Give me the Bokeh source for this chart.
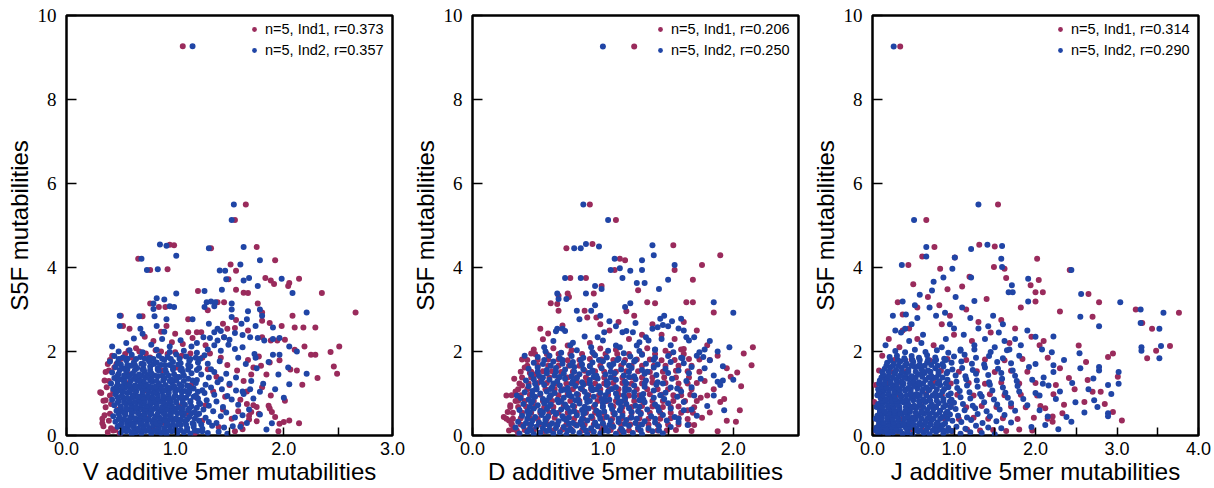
from bokeh.plotting import figure
from bokeh.layouts import row
from bokeh.models import FixedTicker, PrintfTickFormatter, Legend, LegendItem, Range1d
from bokeh.embed import file_html
from bokeh.resources import INLINE

IND1_COLOR = "#9a2b5c"
IND2_COLOR = "#2045a6"

# ---------------- V panel ----------------
v_ind1 = [
    (1.07,9.27),(1.65,5.50),(1.55,5.13),(0.95,4.54),(0.99,4.53),(1.33,4.46),(1.75,4.49),(1.92,4.17),(0.66,4.21),(0.77,3.94),
    (0.93,3.96),(1.51,4.07),(1.56,3.92),(1.49,3.72),(1.83,3.75),(1.88,3.69),(1.91,3.61),(2.05,3.63),(2.04,3.56),(2.14,3.73),
    (1.21,3.44),(1.56,3.47),(1.63,3.40),(1.67,3.39),(2.35,3.39),(2.66,2.93),(0.77,3.14),(0.85,3.06),(0.91,3.06),(0.50,2.85),
    (0.70,2.84),(0.52,2.61),(0.58,2.54),(0.92,2.61),(0.87,2.47),(1.39,3.17),(1.45,3.17),(1.30,2.98),(1.76,3.14),(1.80,2.93),
    (1.12,2.77),(1.44,2.66),(1.56,2.75),(1.87,2.68),(1.80,2.73),(1.98,2.61),(2.10,2.57),(2.18,2.57),(2.29,2.57),(2.08,2.85),
    (1.20,2.46),(1.24,2.46),(1.48,2.54),(1.45,2.34),(1.55,2.56),(1.67,2.50),(1.80,2.34),(1.88,2.26),(1.94,2.26),(2.01,2.28),
    (2.10,2.04),(2.19,2.12),(2.25,1.92),(2.29,1.92),(2.43,1.99),(2.51,2.12),(2.46,1.64),(2.49,1.47),(2.31,1.37),(2.17,1.21),
    (2.06,1.57),(2.12,1.55),(1.96,1.79),(1.87,1.74),(1.79,1.66),(1.72,1.62),(1.00,2.42),(1.12,2.46),(1.16,2.32),(1.07,2.18),
    (0.97,2.22),(0.80,2.25),(0.72,2.35),(1.28,2.15),
    (1.87,0.64),(1.89,0.56),(2.00,0.32),(2.05,0.36),(2.14,0.29),(1.95,0.10),(2.01,0.83),(1.77,0.52),(1.75,0.68),(1.66,0.75),
    (1.61,0.27),(1.68,0.47),(1.75,0.34),(1.92,0.44),(1.96,0.28),(1.70,0.56),(1.86,0.71),
    (0.62,0.95),(0.75,0.40),(0.88,1.55),(1.05,0.70),(1.15,1.20),(0.70,1.70),(1.25,0.35),(0.55,1.25),(0.98,1.30),(0.80,0.15),
    (1.10,0.52),(0.66,0.55),(0.93,0.88),(1.20,0.90),(0.58,1.45),(1.02,1.62),(0.85,1.15),(1.30,1.58),(1.18,0.05),(0.72,1.08),
    (0.48,0.62),(1.35,1.05),(1.28,0.72),(0.90,0.30),(1.40,0.20),(1.44,0.62),(1.38,1.40),(1.50,1.20),(1.46,0.92),(1.52,0.40),
    (1.55,0.10),(1.58,0.58),(1.48,1.68),(1.42,1.85),(1.60,0.85),(1.63,1.30),(1.57,1.55),(1.66,1.05),(1.70,1.45),(1.68,0.38),
    (1.62,0.15),(1.72,0.72),(1.80,1.15),(1.84,1.45),(1.77,1.88),(1.67,1.80),(1.88,0.95),
    (0.31,1.03),(0.34,0.83),(0.35,0.48),(0.33,0.29),(0.41,0.17),(0.45,0.13),(0.36,0.67),(0.39,1.30),(0.42,1.90),(0.36,1.51),
    (0.35,1.31),(0.32,1.01),(0.36,0.84),(0.40,0.52),(0.33,0.40),(0.34,0.22),(0.43,0.12),(0.49,0.04),(0.38,0.08),(0.37,1.15),
    (0.38,1.70),(0.40,0.95),(0.39,0.35),(0.41,0.75),(0.39,1.55),(0.44,1.62),(0.40,1.80),(0.46,1.70),(0.43,1.05),(0.54,1.94),
    (0.60,1.86),(0.67,2.00),(0.77,1.86),(0.87,2.00),(0.93,1.94),(0.82,2.03),(0.73,1.95),(1.00,1.98),(1.06,1.90),(1.14,1.95),
    (1.25,1.85),(1.32,1.95),(0.64,2.08),(0.57,2.02),(0.50,1.82),
]
v_ind2 = [
    (0.50,0.06),(0.55,0.10),(0.60,0.03),(0.64,0.08),(0.69,0.05),(0.73,0.11),(0.78,0.04),(0.83,0.09),(0.87,0.06),(0.92,0.02),
    (0.97,0.10),(1.02,0.05),(1.08,0.08),(1.14,0.04),(1.21,0.11),(1.30,0.06),(1.40,0.09),(1.48,0.04),
    (0.52,0.13),(0.62,0.11),(0.71,0.14),(0.81,0.12),(0.90,0.10),(1.00,0.13),(1.11,0.12),(1.25,0.10),
    (0.57,0.12),(0.66,0.13),(0.76,0.12),(0.85,0.13),(0.95,0.12),(1.05,0.13),(1.18,0.12),
    (0.47,0.21),(0.53,0.17),(0.57,0.23),(0.62,0.19),(0.66,0.16),(0.71,0.22),(0.76,0.18),(0.80,0.24),(0.85,0.20),(0.90,0.17),
    (0.95,0.22),(1.00,0.19),(1.05,0.25),(1.11,0.18),(1.17,0.21),(1.25,0.16),(1.34,0.23),(1.45,0.19),(1.53,0.22),
    (0.50,0.26),(0.56,0.27),(0.62,0.26),(0.68,0.27),(0.74,0.26),(0.80,0.27),(0.86,0.26),(0.92,0.27),(0.98,0.26),(1.04,0.27),
    (1.10,0.26),(1.17,0.27),(1.24,0.26),
    (0.45,0.33),(0.51,0.30),(0.56,0.36),(0.60,0.29),(0.65,0.34),(0.69,0.31),(0.74,0.37),(0.79,0.32),(0.83,0.28),(0.88,0.35),
    (0.93,0.31),(0.98,0.36),(1.03,0.30),(1.09,0.34),(1.16,0.29),(1.22,0.35),(1.31,0.32),(1.38,0.30),
    (0.48,0.39),(0.58,0.37),(0.67,0.40),(0.76,0.38),(0.86,0.36),(0.95,0.39),(1.05,0.38),(1.18,0.40),
    (0.53,0.38),(0.63,0.39),(0.72,0.38),(0.81,0.39),(0.90,0.38),(1.00,0.39),(1.11,0.38),
    (0.43,0.46),(0.49,0.43),(0.54,0.49),(0.59,0.44),(0.63,0.41),(0.68,0.47),(0.72,0.44),(0.77,0.50),(0.82,0.45),(0.86,0.42),
    (0.91,0.48),(0.96,0.45),(1.01,0.41),(1.07,0.47),(1.13,0.44),(1.20,0.49),(1.28,0.42),(1.42,0.46),(1.55,0.43),
    (0.48,0.52),(0.54,0.53),(0.60,0.52),(0.66,0.53),(0.72,0.52),(0.78,0.53),(0.84,0.52),(0.90,0.53),(0.96,0.52),(1.02,0.53),
    (1.08,0.52),(1.15,0.53),(1.22,0.52),
    (0.46,0.59),(0.52,0.56),(0.57,0.62),(0.61,0.57),(0.66,0.54),(0.71,0.60),(0.75,0.57),(0.80,0.63),(0.85,0.58),(0.89,0.55),
    (0.94,0.61),(0.99,0.57),(1.05,0.54),(1.12,0.60),(1.18,0.56),(1.26,0.62),(1.35,0.58),(1.47,0.55),
    (0.50,0.65),(0.59,0.63),(0.68,0.66),(0.77,0.64),(0.87,0.62),(0.96,0.65),(1.07,0.64),(1.20,0.66),
    (0.55,0.64),(0.64,0.65),(0.73,0.64),(0.82,0.65),(0.92,0.64),(1.01,0.65),(1.13,0.64),
    (0.44,0.72),(0.50,0.69),(0.55,0.75),(0.60,0.70),(0.64,0.67),(0.69,0.73),(0.74,0.70),(0.78,0.76),(0.83,0.71),(0.88,0.68),
    (0.92,0.74),(0.97,0.70),(1.03,0.67),(1.09,0.73),(1.15,0.69),(1.23,0.75),(1.31,0.71),(1.44,0.68),(1.58,0.73),
    (0.47,0.78),(0.53,0.79),(0.59,0.78),(0.65,0.79),(0.71,0.78),(0.77,0.79),(0.83,0.78),(0.89,0.79),(0.95,0.78),(1.01,0.79),
    (1.07,0.78),(1.14,0.79),(1.22,0.78),
    (0.42,0.85),(0.48,0.82),(0.53,0.88),(0.58,0.83),(0.63,0.80),(0.67,0.86),(0.72,0.83),(0.77,0.89),(0.81,0.84),(0.86,0.81),
    (0.91,0.87),(0.96,0.83),(1.01,0.80),(1.07,0.86),(1.14,0.82),(1.21,0.88),(1.29,0.84),(1.38,0.81),(1.52,0.86),
    (0.47,0.91),(0.56,0.89),(0.65,0.92),(0.74,0.90),(0.84,0.88),(0.94,0.91),(1.04,0.90),(1.17,0.92),
    (0.52,0.90),(0.61,0.91),(0.70,0.90),(0.79,0.91),(0.89,0.90),(0.99,0.91),(1.10,0.90),
    (0.45,0.98),(0.51,0.95),(0.56,1.01),(0.61,0.96),(0.66,0.93),(0.70,0.99),(0.75,0.96),(0.80,1.02),(0.84,0.97),(0.89,0.94),
    (0.94,1.00),(1.00,0.96),(1.06,0.93),(1.12,0.99),(1.19,0.95),(1.27,1.01),(1.36,0.97),(1.48,0.94),(1.63,0.99),
    (0.46,1.04),(0.52,1.05),(0.58,1.04),(0.64,1.05),(0.70,1.04),(0.76,1.05),(0.82,1.04),(0.88,1.05),(0.94,1.04),(1.00,1.05),
    (1.06,1.04),(1.13,1.05),(1.21,1.04),
    (0.43,1.11),(0.49,1.08),(0.54,1.14),(0.59,1.09),(0.64,1.06),(0.69,1.12),(0.74,1.09),(0.79,1.15),(0.84,1.10),(0.90,1.07),
    (0.96,1.13),(1.02,1.09),(1.09,1.06),(1.17,1.12),(1.25,1.08),(1.33,1.14),(1.43,1.10),(1.56,1.07),
    (0.51,1.17),(0.61,1.15),(0.71,1.18),(0.82,1.16),(0.93,1.14),(1.06,1.17),
    (0.46,1.16),(0.56,1.17),(0.66,1.16),(0.76,1.17),(0.87,1.16),(0.99,1.17),(1.13,1.16),
    (0.41,1.24),(0.47,1.21),(0.53,1.27),(0.58,1.22),(0.63,1.19),(0.68,1.25),(0.73,1.22),(0.79,1.28),(0.85,1.23),(0.91,1.20),
    (0.97,1.26),(1.04,1.22),(1.11,1.19),(1.19,1.25),(1.28,1.21),(1.39,1.27),(1.50,1.23),
    (0.47,1.30),(0.53,1.31),(0.59,1.30),(0.65,1.31),(0.71,1.30),(0.77,1.31),(0.83,1.30),(0.89,1.31),(0.95,1.30),(1.01,1.31),
    (1.08,1.30),(1.16,1.31),
    (0.44,1.37),(0.50,1.34),(0.56,1.40),(0.62,1.35),(0.67,1.32),(0.73,1.38),(0.78,1.35),(0.84,1.41),(0.90,1.36),(0.97,1.33),
    (1.04,1.39),(1.12,1.35),(1.20,1.32),(1.31,1.38),(1.42,1.34),
    (0.53,1.43),(0.64,1.41),(0.75,1.44),(0.88,1.42),(1.01,1.40),
    (0.47,1.42),(0.58,1.43),(0.69,1.42),(0.81,1.43),(0.94,1.42),(1.08,1.43),
    (0.42,1.50),(0.48,1.47),(0.55,1.53),(0.61,1.48),(0.67,1.45),(0.72,1.51),(0.78,1.48),(0.85,1.54),(0.92,1.49),(0.99,1.46),
    (1.07,1.52),(1.15,1.48),(1.24,1.45),(1.36,1.51),(1.47,1.47),
    (0.49,1.56),(0.56,1.57),(0.63,1.56),(0.70,1.57),(0.77,1.56),(0.84,1.57),(0.91,1.56),(0.98,1.57),(1.05,1.56),(1.12,1.57),
    (1.20,1.56),
    (0.45,1.63),(0.52,1.60),(0.59,1.66),(0.65,1.61),(0.71,1.58),(0.77,1.64),(0.84,1.61),(0.91,1.67),(0.98,1.62),(1.06,1.59),
    (1.14,1.65),(1.22,1.61),(1.33,1.58),
    (0.50,1.69),(0.63,1.67),(0.80,1.70),(0.95,1.68),
    (0.56,1.68),(0.71,1.69),(0.87,1.68),(1.03,1.69),(1.12,1.68),
    (0.40,1.76),(0.47,1.73),(0.55,1.79),(0.62,1.74),(0.69,1.71),(0.76,1.77),(0.83,1.74),(0.90,1.80),(0.98,1.75),(1.05,1.72),
    (1.13,1.78),(1.21,1.74),(1.30,1.71),(1.41,1.77),
    (0.48,1.82),(0.56,1.83),(0.64,1.82),(0.72,1.83),(0.80,1.82),(0.88,1.83),(0.96,1.82),(1.04,1.83),(1.14,1.82),(1.23,1.83),
    (0.44,1.89),(0.52,1.86),(0.60,1.92),(0.68,1.87),(0.76,1.84),(0.85,1.90),(0.93,1.87),(1.01,1.93),(1.10,1.88),(1.19,1.85),
    (1.27,1.91),
    (0.48,2.00),(0.58,2.03),(0.70,1.98),(0.83,2.04),(0.95,1.99),(1.08,2.02),(1.20,1.97),
    (1.65,1.70),(1.70,1.30),(1.62,1.05),(1.58,1.85),(1.56,1.38),(1.68,0.62),(1.66,0.30),(1.75,1.60),(1.92,1.10),(2.00,0.90),
    (1.95,1.45),(1.74,1.85),(1.86,1.75),(2.04,1.62),(2.05,1.22),(2.21,1.47),(1.89,0.29),(1.84,0.14),(1.60,0.21),(1.78,0.50),
    (1.72,0.88),(1.78,1.04),(1.81,1.23),(1.62,0.48),(1.69,1.10),
    (1.39,2.54),(1.36,2.46),(1.42,2.49),(1.26,2.34),(1.32,2.32),(1.39,2.26),(1.45,2.34),(1.50,2.28),(1.55,2.44),(1.62,2.39),
    (1.69,2.34),(1.76,2.32),(1.82,2.26),(1.90,2.30),(1.96,2.32),(2.05,2.12),(2.12,2.00),(1.90,1.92),(1.96,1.92),(1.73,1.94),
    (1.62,2.10),(1.55,2.06),(1.49,2.16),(1.30,2.05),(1.36,2.15),(1.42,2.02),
    (0.42,2.12),(0.55,2.20),(0.62,2.31),(0.78,2.16),(0.88,2.30),(0.95,2.12),(1.05,2.27),(1.15,2.12),(0.70,2.42),(1.20,2.20),
    (1.16,9.27),(1.54,5.50),(1.52,5.13),(0.86,4.55),(0.92,4.52),(1.01,4.28),(1.31,4.46),(1.63,4.49),(1.78,4.17),(0.69,4.21),
    (0.74,3.94),(0.84,3.96),(1.41,3.93),(1.46,3.92),(1.60,4.07),(1.47,3.72),(1.63,3.69),(1.68,3.75),(1.98,3.73),(1.76,3.56),
    (1.27,3.44),(1.43,3.47),(2.08,3.39),(2.21,2.93),(1.01,3.38),(0.83,3.27),(0.90,3.24),(0.80,3.14),(0.80,3.01),(0.95,3.08),
    (0.99,3.06),(0.49,2.85),(0.67,2.84),(0.49,2.61),(0.68,2.54),(0.81,2.84),(0.92,2.77),(0.83,2.61),(0.90,2.47),(1.29,3.17),
    (1.33,3.19),(1.37,3.17),(1.52,3.14),(1.27,3.06),(1.36,3.08),(1.52,3.00),(1.78,3.00),(1.67,2.96),(1.80,2.85),(1.16,2.77),
    (1.31,2.66),(1.52,2.82),(1.61,2.66),(1.66,2.77),(1.74,2.61),(1.90,2.57),
]

# ---------------- D panel ----------------
d_ind1 = [
    (1.24,9.26),(0.90,5.50),(1.10,5.13),(0.72,4.46),(0.92,4.56),(1.54,4.53),(1.17,4.17),(1.13,4.21),(1.90,4.29),(1.76,4.06),
    (1.55,3.94),(1.09,3.94),(0.75,3.75),(0.87,3.75),(1.69,3.71),(0.99,3.56),(0.93,3.38),(0.73,3.38),(0.74,3.30),(0.60,3.15),
    (1.27,3.46),(1.40,3.15),(1.34,3.17),(1.64,3.17),(1.69,3.17),(1.85,2.93),(2.15,2.10),(2.14,1.67),(2.06,1.17),(1.93,0.87),
    (2.05,0.60),(2.02,0.33),(1.18,2.96),(1.24,2.85),(0.95,2.81),(0.88,2.81),(0.86,2.97),(0.65,3.13),(0.66,2.97),(0.66,3.33),
    (0.69,2.62),(0.73,2.14),(0.58,2.43),(0.52,2.54),(0.54,2.29),(0.38,1.81),(0.26,0.95),
    (1.45,2.40),(1.55,2.30),(1.60,2.05),(1.72,2.50),(1.80,2.15),(1.88,1.90),(1.95,1.60),(1.98,1.40),(1.85,1.10),(1.90,0.80),
    (1.75,0.90),(1.82,0.55),(1.95,0.35),(1.70,0.25),(1.88,0.10),(1.65,0.60),(1.30,2.40),(1.20,2.30),(1.05,2.50),(0.90,2.20),
    (1.38,2.65),(1.12,2.70),(0.98,2.65),(1.62,2.70),(2.08,1.95),(2.03,1.50),(1.78,1.30),
    (0.24,0.44),(0.28,0.36),(0.30,0.28),(0.27,0.56),(0.35,0.83),(0.38,1.19),(0.44,1.49),(0.48,1.45),(0.35,0.04),(0.31,0.15),
    (0.29,0.72),(0.33,1.05),(0.40,1.62),(0.45,1.95),(0.32,1.35),
    (0.28,0.12),(0.40,0.13),(0.55,0.11),(0.69,0.14),(0.84,0.12),(0.99,0.13),(1.13,0.11),(1.27,0.14),(1.42,0.12),(1.56,0.13),
    (1.68,0.11),
    (0.34,0.12),(0.47,0.13),(0.62,0.12),(0.76,0.13),(0.91,0.12),(1.06,0.13),(1.20,0.12),(1.35,0.13),(1.49,0.12),
    (0.30,0.26),(0.37,0.26),(0.44,0.26),(0.51,0.26),(0.58,0.26),(0.65,0.26),(0.72,0.26),(0.79,0.26),(0.86,0.26),(0.93,0.26),
    (1.00,0.26),(1.07,0.26),(1.14,0.26),(1.21,0.26),(1.28,0.26),(1.35,0.26),(1.42,0.26),(1.50,0.26),(1.58,0.26),(1.66,0.26),
    (0.26,0.40),(0.37,0.41),(0.50,0.39),(0.63,0.42),(0.78,0.40),(0.92,0.41),(1.07,0.39),(1.21,0.42),(1.35,0.40),(1.52,0.41),
    (1.65,0.39),(1.76,0.42),
    (0.31,0.40),(0.44,0.41),(0.57,0.40),(0.71,0.41),(0.85,0.40),(1.00,0.41),(1.14,0.40),(1.28,0.41),(1.44,0.40),(1.58,0.41),
    (0.31,0.54),(0.38,0.54),(0.45,0.54),(0.52,0.54),(0.59,0.54),(0.66,0.54),(0.73,0.54),(0.80,0.54),(0.87,0.54),(0.94,0.54),
    (1.01,0.54),(1.08,0.54),(1.15,0.54),(1.22,0.54),(1.29,0.54),(1.36,0.54),(1.44,0.54),(1.52,0.54),(1.60,0.54),(1.69,0.54),
    (0.29,0.68),(0.41,0.69),(0.55,0.67),(0.70,0.70),(0.86,0.68),(1.00,0.69),(1.15,0.67),(1.30,0.70),(1.46,0.68),(1.58,0.69),
    (1.70,0.67),
    (0.35,0.68),(0.48,0.69),(0.62,0.68),(0.78,0.69),(0.93,0.68),(1.08,0.69),(1.22,0.68),(1.38,0.69),(1.52,0.68),
    (0.33,0.82),(0.40,0.82),(0.47,0.82),(0.54,0.82),(0.61,0.82),(0.68,0.82),(0.75,0.82),(0.82,0.82),(0.89,0.82),(0.96,0.82),
    (1.03,0.82),(1.10,0.82),(1.17,0.82),(1.24,0.82),(1.31,0.82),(1.38,0.82),(1.46,0.82),(1.54,0.82),(1.63,0.82),(1.72,0.82),
    (0.30,0.96),(0.44,0.97),(0.60,0.95),(0.73,0.98),(0.89,0.96),(1.04,0.97),(1.20,0.95),(1.36,0.98),(1.54,0.96),(1.67,0.97),
    (1.80,0.95),
    (0.37,0.96),(0.52,0.97),(0.66,0.96),(0.81,0.97),(0.97,0.96),(1.12,0.97),(1.28,0.96),(1.45,0.97),(1.60,0.96),
    (0.35,1.10),(0.42,1.10),(0.49,1.10),(0.56,1.10),(0.63,1.10),(0.70,1.10),(0.77,1.10),(0.84,1.10),(0.91,1.10),(0.98,1.10),
    (1.05,1.10),(1.12,1.10),(1.19,1.10),(1.26,1.10),(1.34,1.10),(1.42,1.10),(1.50,1.10),(1.59,1.10),(1.68,1.10),
    (0.36,1.24),(0.50,1.25),(0.64,1.23),(0.80,1.26),(0.94,1.24),(1.08,1.25),(1.22,1.23),(1.38,1.26),(1.58,1.24),(1.72,1.25),
    (0.43,1.24),(0.57,1.25),(0.72,1.24),(0.87,1.25),(1.01,1.24),(1.15,1.25),(1.30,1.24),(1.48,1.25),(1.65,1.24),
    (0.38,1.38),(0.45,1.38),(0.52,1.38),(0.59,1.38),(0.66,1.38),(0.73,1.38),(0.80,1.38),(0.87,1.38),(0.94,1.38),(1.01,1.38),
    (1.08,1.38),(1.15,1.38),(1.22,1.38),(1.30,1.38),(1.38,1.38),(1.47,1.38),(1.56,1.38),(1.66,1.38),
    (0.37,1.52),(0.54,1.53),(0.68,1.51),(0.86,1.54),(1.01,1.52),(1.18,1.53),(1.36,1.51),(1.56,1.54),(1.74,1.52),
    (0.45,1.52),(0.61,1.53),(0.77,1.52),(0.94,1.53),(1.10,1.52),(1.27,1.53),(1.46,1.52),(1.65,1.53),
    (0.42,1.66),(0.50,1.66),(0.58,1.66),(0.66,1.66),(0.74,1.66),(0.82,1.66),(0.90,1.66),(0.98,1.66),(1.06,1.66),(1.14,1.66),
    (1.22,1.66),(1.30,1.66),(1.39,1.66),(1.48,1.66),(1.58,1.66),(1.68,1.66),
    (0.42,1.80),(0.58,1.81),(0.73,1.79),(0.90,1.82),(1.08,1.80),(1.26,1.81),(1.45,1.79),(1.66,1.82),(1.82,1.80),
    (0.50,1.80),(0.66,1.81),(0.82,1.80),(0.99,1.81),(1.17,1.80),(1.36,1.81),(1.55,1.80),(1.74,1.81),
    (0.48,1.94),(0.57,1.94),(0.66,1.94),(0.75,1.94),(0.84,1.94),(0.93,1.94),(1.02,1.94),(1.11,1.94),(1.20,1.94),(1.30,1.94),
    (1.40,1.94),(1.51,1.94),(1.62,1.94),
    (0.47,2.05),(0.62,2.08),(0.76,2.03),(0.98,2.07),(1.10,2.04),(1.34,2.08),(1.48,2.02),(1.62,2.06),
]
d_ind2 = [
    (0.36,0.05),(0.42,0.09),(0.47,0.03),(0.52,0.07),(0.57,0.11),(0.62,0.04),(0.67,0.08),(0.72,0.02),(0.77,0.10),(0.82,0.06),
    (0.88,0.03),(0.93,0.09),(0.98,0.05),(1.04,0.11),(1.10,0.04),(1.16,0.08),(1.23,0.06),(1.30,0.03),(1.38,0.10),(1.46,0.05),
    (0.45,0.12),(0.59,0.12),(0.73,0.12),(0.87,0.12),(1.01,0.12),(1.15,0.12),(1.29,0.12),(1.43,0.12),
    (0.33,0.19),(0.39,0.22),(0.44,0.16),(0.49,0.21),(0.54,0.17),(0.59,0.23),(0.64,0.18),(0.70,0.20),(0.75,0.16),(0.80,0.24),
    (0.85,0.19),(0.91,0.17),(0.96,0.22),(1.02,0.18),(1.08,0.21),(1.14,0.16),(1.20,0.23),(1.27,0.19),(1.35,0.17),(1.43,0.22),
    (1.52,0.20),
    (0.45,0.26),(0.55,0.27),(0.65,0.25),(0.74,0.28),(0.84,0.26),(0.94,0.27),(1.05,0.25),(1.17,0.28),(1.30,0.26),
    (0.35,0.33),(0.41,0.30),(0.46,0.36),(0.51,0.31),(0.56,0.35),(0.61,0.29),(0.66,0.34),(0.72,0.37),(0.77,0.30),(0.83,0.33),
    (0.88,0.36),(0.94,0.31),(1.00,0.29),(1.06,0.35),(1.12,0.32),(1.18,0.37),(1.25,0.30),(1.32,0.34),(1.40,0.31),(1.49,0.36),
    (1.58,0.32),
    (0.42,0.40),(0.56,0.40),(0.70,0.40),(0.84,0.40),(0.98,0.40),(1.12,0.40),(1.26,0.40),(1.40,0.40),
    (0.38,0.47),(0.43,0.50),(0.48,0.44),(0.53,0.49),(0.58,0.45),(0.64,0.51),(0.69,0.46),(0.74,0.43),(0.80,0.48),(0.85,0.52),
    (0.91,0.45),(0.97,0.49),(1.03,0.44),(1.09,0.50),(1.15,0.47),(1.22,0.43),(1.29,0.51),(1.37,0.46),(1.46,0.49),(1.55,0.44),
    (0.44,0.54),(0.54,0.55),(0.64,0.53),(0.75,0.56),(0.86,0.54),(0.97,0.55),(1.09,0.53),(1.22,0.56),
    (0.36,0.61),(0.42,0.58),(0.47,0.64),(0.52,0.59),(0.57,0.63),(0.62,0.57),(0.68,0.62),(0.73,0.65),(0.78,0.58),(0.84,0.61),
    (0.89,0.64),(0.95,0.59),(1.01,0.57),(1.07,0.63),(1.13,0.60),(1.20,0.65),(1.27,0.58),(1.34,0.62),(1.43,0.59),(1.52,0.64),
    (1.62,0.60),
    (0.44,0.68),(0.58,0.68),(0.72,0.68),(0.86,0.68),(1.00,0.68),(1.14,0.68),(1.28,0.68),(1.42,0.68),
    (0.39,0.75),(0.45,0.78),(0.50,0.72),(0.55,0.77),(0.60,0.73),(0.66,0.79),(0.71,0.74),(0.77,0.71),(0.82,0.76),(0.88,0.80),
    (0.94,0.73),(1.00,0.77),(1.06,0.72),(1.12,0.78),(1.18,0.75),(1.25,0.71),(1.32,0.79),(1.40,0.74),(1.50,0.77),
    (0.46,0.82),(0.57,0.83),(0.68,0.81),(0.79,0.84),(0.90,0.82),(1.02,0.83),(1.14,0.81),(1.28,0.84),
    (0.37,0.89),(0.43,0.86),(0.48,0.92),(0.54,0.87),(0.59,0.91),(0.65,0.85),(0.70,0.90),(0.76,0.93),(0.81,0.86),(0.87,0.89),
    (0.93,0.92),(0.99,0.87),(1.05,0.85),(1.11,0.91),(1.17,0.88),(1.24,0.93),(1.31,0.86),(1.39,0.90),(1.47,0.87),(1.57,0.92),
    (0.46,0.96),(0.60,0.96),(0.74,0.96),(0.88,0.96),(1.02,0.96),(1.16,0.96),(1.30,0.96),(1.44,0.96),
    (0.40,1.03),(0.46,1.06),(0.52,1.00),(0.57,1.05),(0.63,1.01),(0.68,1.07),(0.74,1.02),(0.80,0.99),(0.86,1.04),(0.92,1.08),
    (0.98,1.01),(1.04,1.05),(1.10,1.00),(1.17,1.06),(1.24,1.03),(1.31,0.99),(1.39,1.07),(1.48,1.02),(1.60,1.05),
    (0.49,1.10),(0.60,1.11),(0.71,1.09),(0.83,1.12),(0.95,1.10),(1.07,1.11),(1.20,1.09),
    (0.43,1.17),(0.49,1.14),(0.55,1.20),(0.61,1.15),(0.67,1.19),(0.73,1.13),(0.79,1.18),(0.85,1.21),(0.91,1.14),(0.97,1.17),
    (1.03,1.20),(1.10,1.15),(1.17,1.13),(1.24,1.19),(1.32,1.16),(1.41,1.21),(1.52,1.14),
    (0.48,1.24),(0.62,1.24),(0.76,1.24),(0.90,1.24),(1.04,1.24),(1.18,1.24),(1.32,1.24),(1.46,1.24),
    (0.41,1.31),(0.47,1.34),(0.53,1.28),(0.59,1.33),(0.65,1.29),(0.71,1.35),(0.77,1.30),(0.84,1.27),(0.90,1.32),(0.96,1.36),
    (1.03,1.29),(1.10,1.33),(1.17,1.28),(1.25,1.34),(1.33,1.31),(1.42,1.27),(1.53,1.35),(1.64,1.30),
    (0.54,1.38),(0.67,1.39),(0.80,1.37),(0.93,1.40),(1.06,1.38),(1.20,1.39),
    (0.45,1.45),(0.51,1.42),(0.57,1.48),(0.63,1.43),(0.70,1.47),(0.76,1.41),(0.82,1.46),(0.89,1.49),(0.95,1.42),(1.02,1.45),
    (1.09,1.48),(1.16,1.43),(1.24,1.41),(1.32,1.47),(1.41,1.44),(1.50,1.49),
    (0.50,1.52),(0.64,1.52),(0.78,1.52),(0.92,1.52),(1.06,1.52),(1.20,1.52),(1.34,1.52),
    (0.43,1.59),(0.50,1.62),(0.57,1.56),(0.64,1.61),(0.71,1.57),(0.78,1.63),(0.85,1.58),(0.92,1.55),(0.99,1.60),(1.06,1.64),
    (1.14,1.57),(1.22,1.61),(1.30,1.56),(1.39,1.62),(1.48,1.59),(1.58,1.55),(1.68,1.63),
    (0.60,1.66),(0.75,1.67),(0.90,1.65),(1.05,1.68),(1.20,1.66),
    (0.47,1.73),(0.54,1.70),(0.62,1.76),(0.69,1.71),(0.77,1.75),(0.84,1.69),(0.92,1.74),(1.00,1.77),(1.08,1.70),(1.16,1.73),
    (1.24,1.76),(1.33,1.71),(1.42,1.69),(1.52,1.75),(1.62,1.72),
    (0.55,1.80),(0.69,1.80),(0.83,1.80),(0.97,1.80),(1.11,1.80),(1.25,1.80),(1.39,1.80),
    (0.50,1.87),(0.59,1.90),(0.67,1.84),(0.76,1.89),(0.85,1.85),(0.94,1.91),(1.03,1.86),(1.12,1.83),(1.21,1.88),(1.30,1.92),
    (1.40,1.85),(1.50,1.89),(1.61,1.84),(1.72,1.90),
    (0.56,2.00),(0.68,1.97),(0.80,2.03),(0.92,1.98),(1.04,2.02),(1.16,1.96),(1.28,2.01),(1.40,2.04),(1.54,1.98),
    (1.74,1.98),(1.77,1.87),(1.88,1.28),(1.85,1.43),(1.82,1.79),(1.90,1.20),(1.80,0.70),(1.72,0.47),(1.65,0.25),(1.70,0.95),
    (1.62,0.80),(1.68,1.15),(1.75,1.35),(1.78,1.60),(1.66,1.48),(1.60,1.85),(1.58,0.40),(1.85,0.95),(1.92,1.65),(1.68,0.62),
    (1.57,1.12),
    (1.38,2.54),(1.44,2.78),(1.46,2.63),(1.50,2.60),(1.53,2.72),(1.58,2.55),(1.64,2.34),(1.66,2.26),(1.70,2.34),(1.26,2.14),
    (1.28,2.22),(1.33,2.34),(1.35,2.26),(1.23,2.46),(1.15,2.46),(1.18,2.49),(1.10,2.14),(1.13,2.10),(1.00,2.26),(1.01,2.46),
    (0.96,2.34),(0.91,2.10),(0.98,2.85),(1.05,2.72),(1.10,2.60),(1.25,2.68),(1.42,2.58),(1.45,2.30),(1.62,2.50),(1.78,2.05),
    (1.82,2.25),(1.88,2.00),(1.47,2.85),(1.60,2.78),(1.52,2.15),(1.40,2.05),(0.75,2.15),(0.62,2.25),(0.55,2.10),(0.40,1.90),
    (1.00,9.26),(0.85,5.50),(1.04,5.13),(0.78,4.46),(0.83,4.46),(0.87,4.56),(0.97,4.50),(1.38,4.53),(1.39,4.29),(1.30,4.17),
    (1.09,4.21),(1.55,4.06),(1.06,3.94),(1.13,3.98),(1.30,3.94),(1.21,3.92),(1.15,3.75),(0.71,3.75),(0.83,3.75),(1.50,3.71),
    (0.94,3.56),(0.99,3.49),(0.87,3.38),(0.65,3.38),(0.66,3.25),(1.26,3.63),(1.32,3.63),(1.43,3.49),(1.85,3.17),(2.00,2.92),
    (1.97,2.10),(2.00,1.33),(1.92,1.31),(1.93,0.60),(1.17,3.06),(1.21,3.15),(0.94,3.10),(0.91,2.97),(0.82,2.77),(0.80,2.97),
    (0.72,3.25),(0.65,2.54),(0.69,2.54),(0.64,2.48),(0.71,2.49),(0.77,2.21),(0.86,2.36),(0.34,0.95),
]

# ---------------- J panel ----------------
j_ind1 = [
    (0.34,9.26),(1.54,5.50),(0.66,5.13),(0.76,4.49),(0.61,4.26),(0.44,4.06),(1.31,4.54),(1.50,4.50),(1.01,4.24),(0.83,3.97),
    (1.49,4.01),(1.62,3.97),(2.02,4.21),(2.42,3.94),(1.19,3.78),(1.64,3.75),(1.94,3.58),(2.04,3.70),(2.09,3.41),(2.00,3.41),
    (2.00,3.19),(2.65,3.37),(2.78,3.17),(2.70,2.83),(3.23,3.00),(3.31,2.68),(3.76,2.92),(3.37,1.84),(3.43,2.54),(3.48,2.02),
    (3.65,2.13),(0.31,3.17),(0.37,2.88),(0.37,2.50),(0.55,3.05),(0.68,3.30),(0.82,3.10),(0.95,2.85),(1.15,3.00),(1.40,3.25),
    (1.82,3.05),(1.58,2.75),(2.30,2.95),(0.50,3.60),(0.92,3.48),(1.10,3.55),
    (3.01,1.40),(2.95,0.56),(3.06,0.36),(2.89,1.87),(2.95,1.95),(2.80,1.04),(2.70,1.04),(2.64,1.32),(2.53,2.14),(2.41,1.37),
    (2.35,0.73),(2.33,0.53),(2.21,0.45),(2.21,0.33),(2.60,0.80),(2.48,1.10),(2.30,1.60),(2.15,1.85),(2.12,0.65),(2.25,1.20),
    (2.05,2.15),(2.62,1.75),(2.85,0.75),
    (0.03,0.12),(0.16,0.13),(0.30,0.11),(0.46,0.14),(0.62,0.12),(0.80,0.13),(0.98,0.11),(1.16,0.14),(1.32,0.12),(1.48,0.13),
    (1.64,0.11),(1.80,0.14),(1.96,0.12),
    (0.05,0.40),(0.20,0.41),(0.36,0.39),(0.52,0.42),(0.70,0.40),(0.88,0.41),(1.06,0.39),(1.24,0.42),(1.42,0.40),(1.60,0.41),
    (1.78,0.39),(1.98,0.42),(2.15,0.40),
    (0.10,0.68),(0.26,0.69),(0.43,0.67),(0.60,0.70),(0.78,0.68),(0.96,0.69),(1.15,0.67),(1.34,0.70),(1.52,0.68),(1.70,0.69),
    (1.88,0.67),(2.06,0.70),
    (0.12,0.96),(0.30,0.97),(0.48,0.95),(0.66,0.98),(0.85,0.96),(1.04,0.97),(1.24,0.95),(1.44,0.98),(1.62,0.96),(1.82,0.97),
    (2.02,0.95),(2.22,0.98),
    (0.18,1.24),(0.36,1.25),(0.56,1.23),(0.76,1.26),(0.96,1.24),(1.18,1.25),(1.38,1.23),(1.58,1.26),(1.80,1.24),(2.00,1.25),
    (0.22,1.52),(0.42,1.53),(0.62,1.51),(0.84,1.54),(1.06,1.52),(1.28,1.53),(1.50,1.51),(1.70,1.54),(1.90,1.52),
    (0.27,1.80),(0.48,1.81),(0.70,1.79),(0.92,1.82),(1.15,1.80),(1.38,1.81),(1.62,1.79),(1.84,1.82),
    (0.33,2.10),(0.55,2.30),(0.75,2.15),(1.00,2.40),(1.22,2.25),(1.45,2.45),(1.68,2.20),(1.95,2.35),(0.45,2.55),(0.85,2.65),
    (1.30,2.70),(1.75,2.55),(2.10,2.25),(0.20,2.30),(0.12,1.90),(0.08,1.55),(0.04,1.20),(0.02,0.80),
]
j_ind2 = [
    (0.07,0.05),(0.13,0.09),(0.19,0.03),(0.25,0.07),(0.31,0.11),(0.37,0.04),(0.43,0.08),(0.49,0.02),(0.56,0.10),(0.63,0.06),
    (0.70,0.03),(0.78,0.09),(0.87,0.05),(0.97,0.11),(1.08,0.04),(1.20,0.08),(1.34,0.06),(1.50,0.03),
    (0.10,0.12),(0.22,0.13),(0.34,0.11),(0.52,0.13),(0.66,0.12),(0.82,0.14),(0.92,0.11),
    (0.04,0.12),(0.16,0.12),(0.28,0.12),(0.43,0.12),(0.59,0.12),(0.74,0.12),(0.87,0.12),
    (0.05,0.19),(0.11,0.22),(0.17,0.16),(0.23,0.21),(0.29,0.17),(0.35,0.23),(0.41,0.18),(0.47,0.20),(0.54,0.16),(0.61,0.24),
    (0.68,0.19),(0.76,0.17),(0.84,0.22),(0.93,0.18),(1.03,0.21),(1.14,0.16),(1.27,0.23),(1.42,0.19),(1.58,0.17),
    (0.08,0.26),(0.20,0.27),(0.32,0.25),(0.44,0.28),(0.57,0.26),(0.71,0.27),(0.86,0.25),
    (0.14,0.26),(0.26,0.26),(0.38,0.26),(0.50,0.26),(0.64,0.26),(0.78,0.26),
    (0.08,0.33),(0.14,0.30),(0.20,0.36),(0.26,0.31),(0.32,0.35),(0.38,0.29),(0.45,0.34),(0.51,0.37),(0.58,0.30),(0.65,0.33),
    (0.72,0.36),(0.80,0.31),(0.89,0.29),(0.98,0.35),(1.09,0.32),(1.21,0.37),(1.35,0.30),(1.52,0.34),(1.70,0.31),
    (0.04,0.40),(0.11,0.40),(0.18,0.40),(0.25,0.40),(0.32,0.40),(0.39,0.40),(0.46,0.40),(0.53,0.40),(0.60,0.40),(0.67,0.40),
    (0.75,0.40),(0.83,0.40),(0.92,0.40),
    (0.06,0.47),(0.12,0.50),(0.18,0.44),(0.24,0.49),(0.30,0.45),(0.36,0.51),(0.43,0.46),(0.49,0.43),(0.56,0.48),(0.63,0.52),
    (0.70,0.45),(0.78,0.49),(0.86,0.44),(0.95,0.50),(1.05,0.47),(1.16,0.43),(1.29,0.51),(1.44,0.46),(1.62,0.49),
    (0.09,0.54),(0.21,0.55),(0.33,0.53),(0.46,0.56),(0.60,0.54),(0.74,0.55),(0.90,0.53),
    (0.15,0.54),(0.27,0.54),(0.40,0.54),(0.53,0.54),(0.67,0.54),(0.82,0.54),
    (0.09,0.61),(0.15,0.58),(0.21,0.64),(0.27,0.59),(0.33,0.63),(0.40,0.57),(0.46,0.62),(0.53,0.65),(0.60,0.58),(0.67,0.61),
    (0.75,0.64),(0.83,0.59),(0.92,0.57),(1.02,0.63),(1.13,0.60),(1.26,0.65),(1.40,0.58),(1.56,0.62),(1.75,0.59),
    (0.05,0.68),(0.12,0.68),(0.19,0.68),(0.26,0.68),(0.33,0.68),(0.41,0.68),(0.48,0.68),(0.55,0.68),(0.62,0.68),(0.70,0.68),
    (0.78,0.68),(0.87,0.68),(0.96,0.68),
    (0.07,0.75),(0.13,0.78),(0.19,0.72),(0.25,0.77),(0.31,0.73),(0.38,0.79),(0.44,0.74),(0.51,0.71),(0.58,0.76),(0.65,0.80),
    (0.73,0.73),(0.81,0.77),(0.90,0.72),(1.00,0.78),(1.11,0.75),(1.23,0.71),(1.37,0.79),(1.53,0.74),(1.70,0.77),(1.90,0.72),
    (0.11,0.82),(0.23,0.83),(0.36,0.81),(0.50,0.84),(0.64,0.82),(0.79,0.83),(0.95,0.81),
    (0.17,0.82),(0.30,0.82),(0.43,0.82),(0.57,0.82),(0.71,0.82),(0.87,0.82),
    (0.10,0.89),(0.16,0.86),(0.22,0.92),(0.28,0.87),(0.35,0.91),(0.41,0.85),(0.48,0.90),(0.55,0.93),(0.62,0.86),(0.70,0.89),
    (0.78,0.92),(0.87,0.87),(0.97,0.85),(1.08,0.91),(1.20,0.88),(1.34,0.93),(1.49,0.86),(1.66,0.90),(1.85,0.87),
    (0.06,0.96),(0.13,0.96),(0.20,0.96),(0.27,0.96),(0.35,0.96),(0.42,0.96),(0.50,0.96),(0.58,0.96),(0.66,0.96),(0.74,0.96),
    (0.83,0.96),(0.93,0.96),
    (0.08,1.03),(0.14,1.06),(0.20,1.00),(0.27,1.05),(0.33,1.01),(0.40,1.07),(0.47,1.02),(0.54,0.99),(0.61,1.04),(0.69,1.08),
    (0.77,1.01),(0.86,1.05),(0.96,1.00),(1.07,1.06),(1.19,1.03),(1.32,0.99),(1.47,1.07),(1.63,1.02),(1.80,1.05),(2.00,1.01),
    (0.13,1.10),(0.26,1.11),(0.40,1.09),(0.55,1.12),(0.70,1.10),(0.88,1.11),
    (0.07,1.10),(0.20,1.10),(0.33,1.10),(0.47,1.10),(0.62,1.10),(0.79,1.10),
    (0.11,1.17),(0.17,1.14),(0.24,1.20),(0.30,1.15),(0.37,1.19),(0.44,1.13),(0.51,1.18),(0.58,1.21),(0.66,1.14),(0.74,1.17),
    (0.83,1.20),(0.93,1.15),(1.04,1.13),(1.16,1.19),(1.29,1.16),(1.44,1.21),(1.60,1.14),(1.78,1.18),
    (0.08,1.24),(0.15,1.24),(0.22,1.24),(0.30,1.24),(0.38,1.24),(0.46,1.24),(0.54,1.24),(0.62,1.24),(0.71,1.24),(0.80,1.24),
    (0.90,1.24),
    (0.09,1.31),(0.16,1.34),(0.22,1.28),(0.29,1.33),(0.36,1.29),(0.43,1.35),(0.50,1.30),(0.57,1.27),(0.65,1.32),(0.73,1.36),
    (0.82,1.29),(0.92,1.33),(1.03,1.28),(1.15,1.34),(1.28,1.31),(1.43,1.27),(1.59,1.35),(1.77,1.30),(1.96,1.33),
    (0.18,1.38),(0.32,1.39),(0.46,1.37),(0.61,1.40),(0.78,1.38),
    (0.11,1.38),(0.25,1.38),(0.39,1.38),(0.53,1.38),(0.69,1.38),(0.86,1.38),
    (0.13,1.45),(0.20,1.42),(0.27,1.48),(0.34,1.43),(0.41,1.47),(0.48,1.41),(0.56,1.46),(0.64,1.49),(0.72,1.42),(0.81,1.45),
    (0.91,1.48),(1.02,1.43),(1.14,1.41),(1.27,1.47),(1.42,1.44),(1.58,1.49),(1.75,1.42),
    (0.12,1.52),(0.20,1.52),(0.28,1.52),(0.36,1.52),(0.44,1.52),(0.53,1.52),(0.62,1.52),(0.71,1.52),(0.81,1.52),(0.92,1.52),
    (0.15,1.59),(0.22,1.62),(0.29,1.56),(0.36,1.61),(0.44,1.57),(0.52,1.63),(0.60,1.58),(0.68,1.55),(0.77,1.60),(0.87,1.64),
    (0.98,1.57),(1.10,1.61),(1.23,1.56),(1.38,1.62),(1.54,1.59),(1.72,1.55),(1.92,1.63),
    (0.25,1.66),(0.40,1.67),(0.56,1.65),(0.72,1.68),
    (0.17,1.66),(0.32,1.66),(0.48,1.66),(0.64,1.66),(0.80,1.66),
    (0.18,1.73),(0.26,1.70),(0.34,1.76),(0.42,1.71),(0.50,1.75),(0.58,1.69),(0.67,1.74),(0.76,1.77),(0.86,1.70),(0.97,1.73),
    (1.09,1.76),(1.22,1.71),(1.37,1.69),(1.53,1.75),(1.70,1.72),
    (0.22,1.80),(0.31,1.80),(0.40,1.80),(0.49,1.80),(0.58,1.80),(0.68,1.80),(0.78,1.80),(0.90,1.80),
    (0.21,1.87),(0.30,1.90),(0.39,1.84),(0.48,1.89),(0.57,1.85),(0.67,1.91),(0.77,1.86),(0.88,1.83),(1.00,1.88),(1.13,1.92),
    (1.27,1.85),(1.43,1.89),(1.60,1.84),(1.80,1.90),
    (0.28,2.01),(0.40,1.98),(0.52,2.04),(0.65,1.99),(0.79,2.03),(0.93,1.97),(1.08,2.02),(1.25,2.05),(1.45,1.99),(1.65,2.03),
    (0.16,2.15),(0.25,2.85),(0.28,2.50),(0.35,2.45),(0.41,2.88),(0.40,2.54),(0.45,2.25),(0.55,2.80),(0.60,2.20),(0.62,2.40),
    (0.70,3.05),(0.78,2.85),(0.89,2.92),(0.90,2.30),(0.95,2.65),(1.00,2.55),(1.08,2.05),(1.12,2.40),(1.20,2.80),(1.25,2.15),
    (1.30,2.55),(1.38,2.30),(1.42,2.60),(1.50,2.10),(1.55,2.45),(1.62,2.25),(1.68,2.05),(1.75,2.30),(1.82,2.15),(1.90,2.50),
    (1.10,3.05),(1.25,3.20),(0.52,3.10),(0.58,3.35),(0.37,3.19),(0.48,2.65),(0.85,2.10),(1.02,3.30),(1.48,2.85),(1.60,2.65),
    (2.00,2.35),(2.08,2.05),
    (2.22,2.36),(2.54,1.96),(2.78,1.63),(2.78,1.55),(2.71,1.36),(2.89,1.20),(2.93,0.99),(2.72,0.84),(2.76,0.68),(2.89,0.53),
    (2.89,0.46),(3.02,1.51),(3.02,1.23),(2.38,0.44),(2.44,0.33),(2.49,0.79),(2.25,0.87),(2.22,1.51),(2.22,1.67),(2.16,1.19),
    (2.10,1.38),(2.09,1.23),(2.20,1.98),(2.05,0.60),(2.12,0.25),(2.30,1.05),(2.35,1.80),(2.45,1.25),(2.60,0.55),(2.65,1.10),
    (2.55,1.60),(2.00,1.70),(2.05,0.95),(2.15,0.45),(1.95,0.20),(2.28,0.15),
    (0.26,9.26),(1.30,5.50),(0.51,5.13),(0.66,4.49),(0.66,4.26),(0.36,4.06),(1.21,4.44),(1.41,4.54),(1.59,4.51),(1.01,4.24),
    (0.98,3.97),(1.58,4.21),(1.59,4.01),(2.44,3.94),(1.21,3.76),(0.87,3.76),(0.75,3.66),(0.73,3.45),(1.71,3.58),(1.72,3.41),
    (1.67,3.41),(1.91,3.73),(1.91,3.19),(2.56,3.37),(3.04,3.17),(2.55,2.83),(2.78,2.60),(3.29,3.00),(3.29,2.68),(3.57,2.92),
    (3.30,2.10),(3.30,2.02),(3.52,2.54),(3.52,1.84),(3.54,2.13),
]

x_labels = ["V additive 5mer mutabilities", "D additive 5mer mutabilities", "J additive 5mer mutabilities"]
x_maxes = [3.0, 2.5, 4.0]
x_major = [[0, 1, 2, 3], [0, 1, 2], [0, 1, 2, 3, 4]]
x_minor = [[0.5, 1.5, 2.5], [0.5, 1.5], [0.5, 1.5, 2.5, 3.5]]
y_ticks = [0, 2, 4, 6, 8, 10]
ind1_labels = ["n=5, Ind1, r=0.373", "n=5, Ind1, r=0.206", "n=5, Ind1, r=0.314"]
ind2_labels = ["n=5, Ind2, r=0.357", "n=5, Ind2, r=0.250", "n=5, Ind2, r=0.290"]
series = [(v_ind1, v_ind2), (d_ind1, d_ind2), (j_ind1, j_ind2)]
borders = [(66, 16), (58, 8), (66, 22)]

figs = []
for i in range(3):
    lb, rb = borders[i]
    p = figure(frame_width=326, frame_height=420,
               min_border_left=lb, min_border_right=rb, min_border_top=15, min_border_bottom=53,
               x_range=Range1d(0, x_maxes[i]), y_range=Range1d(0, 10),
               output_backend="svg", toolbar_location=None)
    p.xgrid.visible = False
    p.ygrid.visible = False
    p.outline_line_color = "black"
    p.outline_line_width = 2.5
    p.outline_line_alpha = 1.0
    p.background_fill_color = "white"
    p.border_fill_color = "white"

    a, b = series[i]
    r1 = p.scatter([t[0] for t in a], [t[1] for t in a], size=6,
                   fill_color=IND1_COLOR, line_color=None)
    r2 = p.scatter([t[0] for t in b], [t[1] for t in b], size=6,
                   fill_color=IND2_COLOR, line_color=None)

    xa = p.xaxis[0]
    xa.ticker = FixedTicker(ticks=x_major[i], minor_ticks=x_minor[i])
    xa.formatter = PrintfTickFormatter(format="%.1f")
    xa.axis_line_color = None
    xa.major_tick_in = 8
    xa.major_tick_out = 0
    xa.minor_tick_in = 8
    xa.minor_tick_out = 0
    xa.major_tick_line_color = "black"
    xa.minor_tick_line_color = "black"
    xa.major_tick_line_width = 1.5
    xa.minor_tick_line_width = 1.5
    xa.major_label_text_font = "Liberation Sans"
    xa.major_label_text_font_size = "18px"
    xa.major_label_text_color = "black"
    xa.major_label_standoff = 6
    xa.axis_label = x_labels[i]
    xa.axis_label_text_font = "Liberation Sans"
    xa.axis_label_text_font_size = "24px"
    xa.axis_label_text_font_style = "normal"
    xa.axis_label_text_color = "black"
    xa.axis_label_standoff = 0

    ya = p.yaxis[0]
    ya.ticker = FixedTicker(ticks=y_ticks, minor_ticks=[])
    ya.axis_line_color = None
    ya.major_tick_in = 10
    ya.major_tick_out = 0
    ya.minor_tick_in = 0
    ya.minor_tick_out = 0
    ya.major_tick_line_color = "black"
    ya.major_tick_line_width = 1.5
    ya.major_label_text_font = "Liberation Serif"
    ya.major_label_text_font_size = "19px"
    ya.major_label_text_color = "black"
    ya.major_label_standoff = 10
    ya.axis_label = "S5F mutabilities"
    ya.axis_label_text_font = "Liberation Sans"
    ya.axis_label_text_font_size = "24px"
    ya.axis_label_text_font_style = "normal"
    ya.axis_label_text_color = "black"
    ya.axis_label_standoff = 2

    legend = Legend(items=[LegendItem(label=ind1_labels[i], renderers=[r1]),
                           LegendItem(label=ind2_labels[i], renderers=[r2])],
                    location="top_right", orientation="vertical",
                    background_fill_alpha=0, border_line_color=None,
                    margin=4, padding=6, spacing=1,
                    glyph_width=12, glyph_height=20, label_height=20,
                    label_width=123, label_standoff=5,
                    label_text_font="Liberation Sans", label_text_font_size="14.5px",
                    label_text_color="black")
    p.add_layout(legend)
    figs.append(p)

layout = row(*figs, spacing=0)
open("out.html", "w").write(file_html(layout, INLINE))
